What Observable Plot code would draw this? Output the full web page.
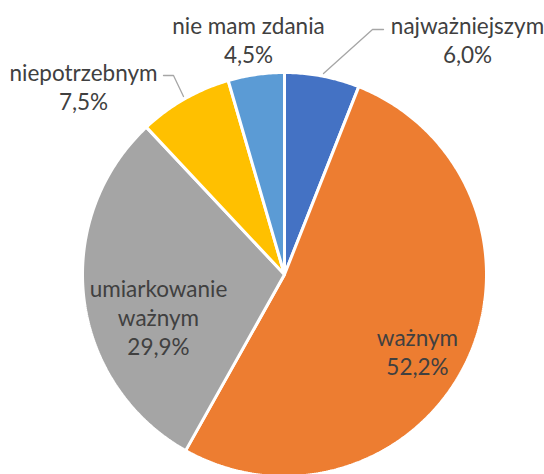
<!DOCTYPE html>
<html>
<head>
<meta charset="utf-8">
<script src="https://cdn.jsdelivr.net/npm/d3@7"></script>
<script src="https://cdn.jsdelivr.net/npm/@observablehq/plot@0.6"></script>
<style>
  html, body { margin: 0; padding: 0; background: #fff; }
  #chart { width: 544px; height: 474px; overflow: hidden; }
</style>
</head>
<body>
<div id="chart"></div>
<script>
// ---- data ----
const categories = ["najważniejszym", "ważnym", "umiarkowanie ważnym", "niepotrzebnym", "nie mam zdania"];
const values = [6.0, 52.2, 29.9, 7.5, 4.5];
const valueLabels = ["6,0%", "52,2%", "29,9%", "7,5%", "4,5%"];
const labelLines = ["najważniejszym", "ważnym", "umiarkowanie\nważnym", "niepotrzebnym", "nie mam zdania"];
const colors = ["#4472C4", "#ED7D31", "#A5A5A5", "#FFC000", "#5B9BD5"];

// ---- layout ----
const W = 544, H = 474;
const CX = 284, CY = 274, R = 202;
// label block centres (pixels)
const labelPos = [
  [467, 39], [417, 351], [158, 316], [83, 86], [248, 39]
];
// leader lines (pixels)
const leaders = [
  {id: "a", pts: [[383, 29], [372, 29], [323, 73]]},
  {id: "b", pts: [[163, 75], [173, 75], [183, 96]]}
];

const pie = d3.pie().sort(null).value(d => d.value)(
  categories.map((c, i) => ({category: c, value: values[i]}))
);

// polygon points for each slice, computed from pie angles
const slicePts = [];
pie.forEach(s => {
  const n = Math.max(4, Math.ceil((s.endAngle - s.startAngle) / 0.01));
  slicePts.push({category: s.data.category, x: CX, y: CY});
  for (let k = 0; k <= n; k++) {
    const a = s.startAngle + (s.endAngle - s.startAngle) * k / n;
    slicePts.push({category: s.data.category, x: CX + R * Math.sin(a), y: CY - R * Math.cos(a)});
  }
});

const leaderPts = leaders.flatMap(l => l.pts.map(p => ({id: l.id, x: p[0], y: p[1]})));
const labels = categories.map((c, i) => ({
  text: labelLines[i] + "\n" + valueLabels[i],
  x: labelPos[i][0], y: labelPos[i][1]
}));

const chart = Plot.plot({
  width: W, height: H,
  margin: 0,
  x: {domain: [0, W], range: [0, W], axis: null},
  y: {domain: [0, H], range: [0, H], axis: null},
  color: {domain: categories, range: colors},
  style: {background: "white"},
  marks: [
    Plot.line(slicePts, {
      x: "x", y: "y", z: "category", fill: "category",
      stroke: "white", strokeWidth: 3, strokeLinejoin: "miter",
      curve: "linear-closed"
    }),
    Plot.line(leaderPts, {x: "x", y: "y", z: "id", stroke: "#A6A6A6", strokeWidth: 1.3}),
    Plot.text(labels, {
      x: "x", y: "y", text: "text",
      fill: "#404040", fontSize: 22.5, lineHeight: 1.29,
      fontFamily: "Lato, 'Open Sans', sans-serif"
    })
  ]
});
document.getElementById("chart").appendChild(chart);
</script>
</body>
</html>
